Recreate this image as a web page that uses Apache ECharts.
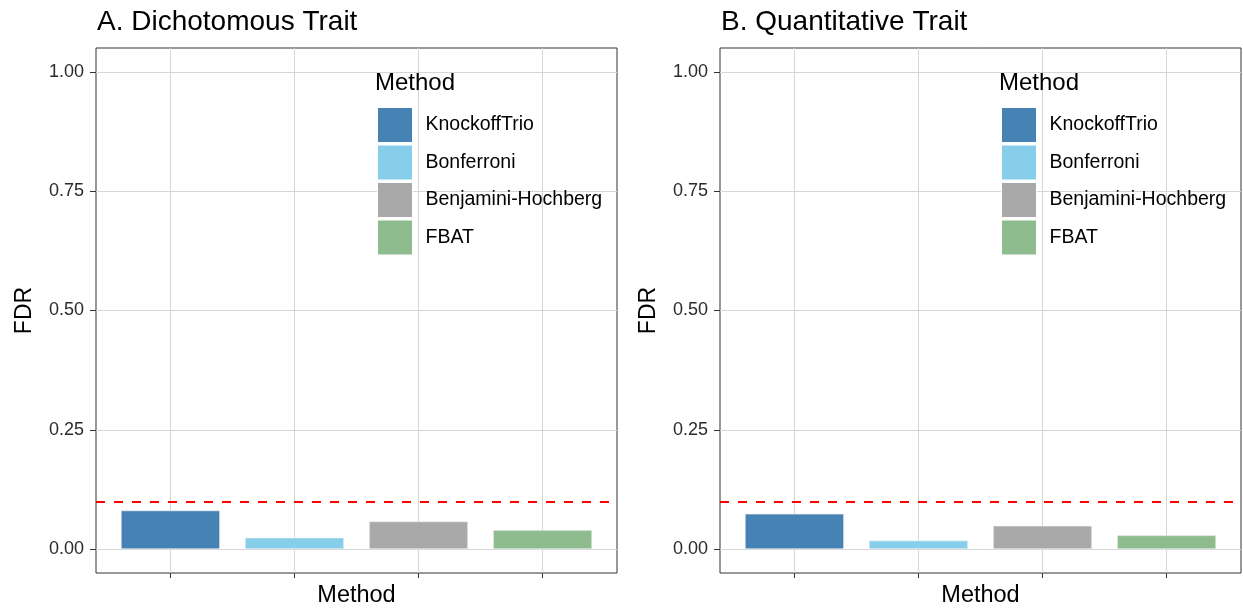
<!DOCTYPE html>
<html>
<head>
<meta charset="utf-8">
<script src="https://cdn.jsdelivr.net/npm/echarts@6/dist/echarts.min.js"></script>
<style>
  html, body { margin: 0; padding: 0; background: #fff; }
  #chart { width: 1243px; height: 613px; }
</style>
</head>
<body>
<div id="chart"></div>
<script>
// FDR per testing method, two trait types
const methods = ['KnockoffTrio', 'Bonferroni', 'Benjamini-Hochberg', 'FBAT'];
const methodColors = ['#4682b4', '#87ceeb', '#a9a9a9', '#8fbc8f'];
const fdrDichotomous = [0.081, 0.024, 0.058, 0.040];
const fdrQuantitative = [0.074, 0.018, 0.049, 0.029];
const panelTitles = ['A. Dichotomous Trait', 'B. Quantitative Trait'];
const yTicks = [0, 0.25, 0.5, 0.75, 1.0];
const targetFdr = 0.1;

const FONT = '"Liberation Sans", Arial, Helvetica, sans-serif';
const panels = [
  { left: 96, values: fdrDichotomous },
  { left: 720, values: fdrQuantitative }
];
const gridTop = 48, gridH = 525, gridW = 521;

const grids = [], xAxes = [], yAxes = [], series = [], titles = [], legends = [];
panels.forEach((p, k) => {
  grids.push({
    left: p.left, top: gridTop, width: gridW, height: gridH,
    show: true, borderColor: '#333', borderWidth: 1, backgroundColor: '#fff', z: 0
  });
  xAxes.push({
    type: 'value', gridIndex: k, min: 0.4, max: 4.6,
    name: 'Method', nameLocation: 'middle', nameGap: 11,
    nameTextStyle: { fontFamily: FONT, fontSize: 23.5, color: '#000' },
    axisLine: { show: false, onZero: false },
    axisTick: { show: true, length: 5, lineStyle: { color: '#333' }, customValues: [1, 2, 3, 4] },
    axisLabel: { show: false, customValues: [1, 2, 3, 4] },
    splitLine: { show: true, lineStyle: { color: '#d6d6d6', width: 1 } }
  });
  yAxes.push({
    type: 'value', gridIndex: k, min: -0.05, max: 1.05,
    name: 'FDR', nameLocation: 'middle', nameGap: 60,
    nameTextStyle: { fontFamily: FONT, fontSize: 23, color: '#000' },
    axisLine: { show: false, onZero: false },
    axisTick: { show: true, length: 6, lineStyle: { color: '#333' }, customValues: yTicks },
    axisLabel: {
      customValues: yTicks, fontFamily: FONT, fontSize: 18, color: '#2b2b2b', margin: 12,
      formatter: v => v.toFixed(2)
    },
    splitLine: { show: true, lineStyle: { color: '#d6d6d6', width: 1 } }
  });
  titles.push({
    text: panelTitles[k], left: p.left - 4, top: 3,
    textStyle: { fontFamily: FONT, fontSize: 28, fontWeight: 'normal', color: '#000' }
  });
  titles.push({
    text: 'Method', left: p.left + 274, top: 66,
    textStyle: { fontFamily: FONT, fontSize: 24, fontWeight: 'normal', color: '#000' }
  });
  legends.push({
    orient: 'vertical', left: p.left + 276, top: 102,
    itemWidth: 35, itemHeight: 35, itemGap: 1.5, icon: 'rect',
    selectedMode: false,
    data: methods,
    itemStyle: { borderColor: '#fff', borderWidth: 1 },
    textStyle: { fontFamily: FONT, fontSize: 19.5, color: '#000', padding: [8, 0, 0, 8] }
  });
  methods.forEach((m, i) => {
    const s = {
      name: m, type: 'bar', xAxisIndex: k, yAxisIndex: k,
      data: [[i + 1, p.values[i]]],
      barWidth: 99, barGap: '-100%',
      itemStyle: { color: methodColors[i], borderColor: '#f4f4f4', borderWidth: 0.6 },
      emphasis: { disabled: true },
      z: 3
    };
    if (i === 0) {
      s.markLine = {
        silent: true, symbol: 'none', label: { show: false },
        lineStyle: { color: '#ff0000', type: [9, 9], width: 2 },
        data: [{ yAxis: targetFdr }],
        z: 5
      };
    }
    series.push(s);
  });
});

const chart = echarts.init(document.getElementById('chart'));
chart.setOption({
  animation: false,
  backgroundColor: '#fff',
  title: titles,
  legend: legends,
  grid: grids,
  xAxis: xAxes,
  yAxis: yAxes,
  series: series
});
</script>
</body>
</html>
